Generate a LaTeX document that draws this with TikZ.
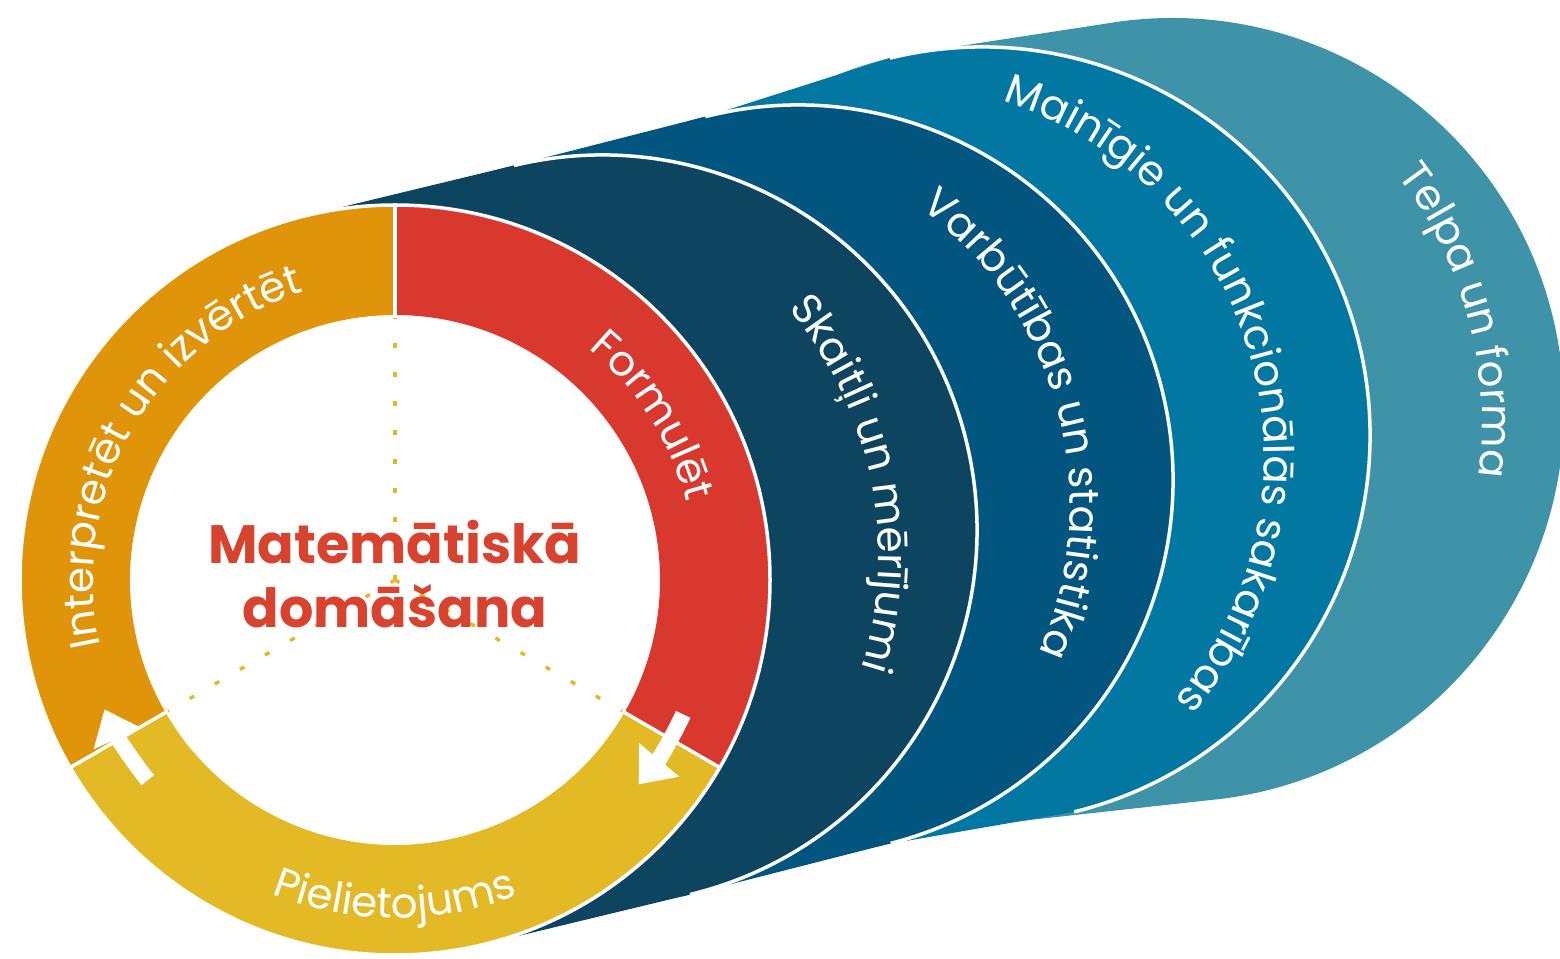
\documentclass[tikz,border=0pt]{standalone}
\usepackage{fontspec}
\setmainfont{Poppins}
\usetikzlibrary{arrows.meta,decorations.text,calc}

\definecolor{telpa}{HTML}{3F93A8}
\definecolor{mainigie}{HTML}{0177A1}
\definecolor{varbutibas}{HTML}{02557F}
\definecolor{skaitli}{HTML}{0D4560}
\definecolor{formulet}{HTML}{D9382E}
\definecolor{interpretet}{HTML}{E0940A}
\definecolor{pielietojums}{HTML}{E3B925}
\definecolor{virsraksts}{HTML}{D8432F}

\newcommand\arcfont{\fontsize{42}{50}\selectfont\color{white}}

\tikzset{x=1pt, y=1pt,
  sep/.style={white, line width=3.5pt},
  dotline/.style={pielietojums, line width=3.5pt, dash pattern=on 5pt off 24pt},
  cycarrow/.style={white, line width=16pt, -{Triangle[length=32pt, width=50pt]}},
  arctext/.style={decorate, decoration={text along path, text align=center, text={|\arcfont|#1}}}}

\begin{document}
\begin{tikzpicture}
  \useasboundingbox (0,0) rectangle (1560,958);
  \coordinate (c0) at (395,378);
  \coordinate (c1) at (602,428);
  \coordinate (c2) at (798,478);
  \coordinate (c3) at (982,523);
  \coordinate (c4) at (1172,548);
  \coordinate (m1) at ($(c0)!0.5!(c1)$);
  \coordinate (m2) at ($(c1)!0.5!(c2)$);
  \coordinate (m3) at ($(c2)!0.5!(c3)$);
  \coordinate (m4) at ($(c3)!0.5!(c4)$);

  % the bands behind, back to front
  \fill[telpa] ($(c3)+(97.5:388)$) -- ($(c4)+(97.5:392)$)
    arc[start angle=97.5, end angle=-82.5, radius=392]
    -- ($(c3)+(-82.5:388)$) arc[start angle=-82.5, end angle=-262.5, radius=388] -- cycle;
  \fill[mainigie] ($(c2)+(103.74:375)$) -- ($(c3)+(103.74:388)$)
    arc[start angle=103.74, end angle=-76.26, radius=388]
    -- ($(c2)+(-76.26:375)$) arc[start angle=-76.26, end angle=-256.26, radius=375] -- cycle;
  \draw[sep] ($(c3)+(103.74:388)$) arc[start angle=103.74, end angle=-76.26, radius=388];
  \fill[varbutibas] ($(c1)+(104.31:375)$) -- ($(c2)+(104.31:375)$)
    arc[start angle=104.31, end angle=-75.69, radius=375]
    -- ($(c1)+(-75.69:375)$) arc[start angle=-75.69, end angle=-255.69, radius=375] -- cycle;
  \draw[sep] ($(c2)+(104.31:375)$) arc[start angle=104.31, end angle=-75.69, radius=375];
  \fill[skaitli] ($(c0)+(103.58:375)$) -- ($(c1)+(103.58:375)$)
    arc[start angle=103.58, end angle=-76.42, radius=375]
    -- ($(c0)+(-76.42:375)$) arc[start angle=-76.42, end angle=-256.42, radius=375] -- cycle;
  \draw[sep] ($(c1)+(103.58:375)$) arc[start angle=103.58, end angle=-76.42, radius=375];

  % the ring
  \begin{scope}[shift={(c0)}]
    \fill[white] (0,0) circle[radius=375];
    \fill[formulet] (90:265) arc[start angle=90, end angle=-30, radius=265]
      -- (-30:375) arc[start angle=-30, end angle=90, radius=375] -- cycle;
    \fill[pielietojums] (-30:265) arc[start angle=-30, end angle=-150, radius=265]
      -- (-150:375) arc[start angle=-150, end angle=-30, radius=375] -- cycle;
    \fill[interpretet] (210:265) arc[start angle=210, end angle=90, radius=265]
      -- (90:375) arc[start angle=90, end angle=210, radius=375] -- cycle;
    \draw[sep] (90:265) -- (90:375);
    \draw[sep] (-30:265) -- (-30:375);
    \draw[sep] (210:265) -- (210:375);
    \draw[sep] (0,0) circle[radius=375];
    \draw[dotline] (0,0) -- (90:262);
    \draw[dotline] (0,0) -- (-30:262);
    \draw[dotline] (0,0) -- (210:262);
  \end{scope}

  \node[font=\bfseries\fontsize{54}{64}\selectfont, text=virsraksts, align=center]
    (title) at (395,384) {Matemātiskā\\domāšana};

  \path[arctext={Formulēt}] ($(c0)+(80:302)$) arc[start angle=80, end angle=-15, radius=302];
  \path[arctext={Interpretēt un izvērtēt}] ($(c0)+(235:302)$) arc[start angle=235, end angle=65, radius=302];
  \path[arctext={Pielietojums}] ($(c0)+(210:338)$) arc[start angle=210, end angle=330, radius=338];
  \path[arctext={Skaitļi un mērījumi}] ($(m1)+(80:380)$) arc[start angle=80, end angle=-57, radius=380];
  \path[arctext={Varbūtības un statistika}] ($(m2)+(85:370)$) arc[start angle=85, end angle=-55, radius=370];
  \path[arctext={Mainīgie un funkcionālās sakarības}] ($(m3)+(100:374)$) arc[start angle=100, end angle=-68, radius=374];
  \path[arctext={Telpa un forma}] ($(m4)+(85:405)$) arc[start angle=85, end angle=-55, radius=405];

  \draw[cycarrow] ($(c0)+(-25:318)$) arc[start angle=-25, end angle=-40, radius=318];
  \draw[cycarrow] ($(c0)+(219:318)$) arc[start angle=219, end angle=204, radius=318];
\end{tikzpicture}
\end{document}
